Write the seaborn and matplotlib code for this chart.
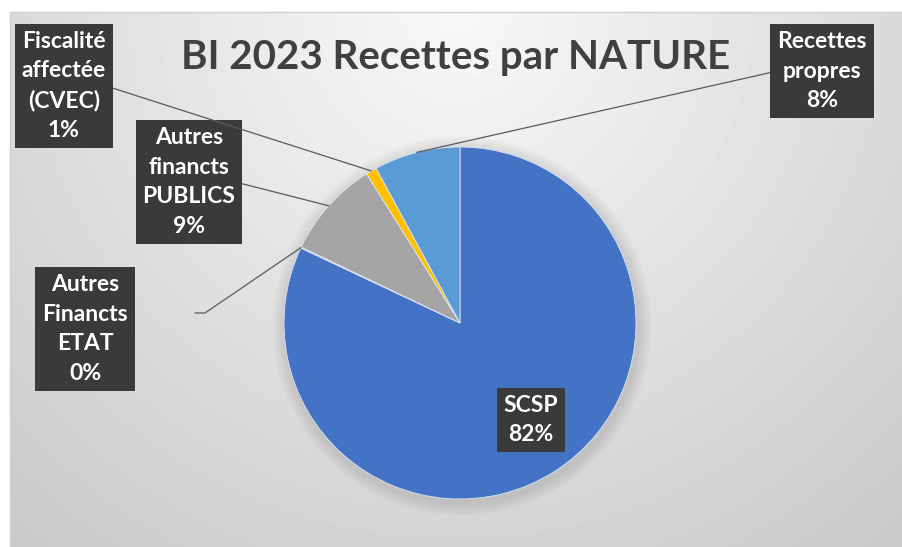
import numpy as np
import matplotlib.pyplot as plt
import seaborn as sns

# Pie data (clockwise from 12 o'clock, as in the Excel chart)
categories = ["SCSP", "Autres\nFinancts\nETAT", "Autres\nfinancts\nPUBLICS",
              "Fiscalité\naffectée\n(CVEC)", "Recettes\npropres"]
values = [82.0, 0.1, 9.0, 1.0, 7.9]
colors = ["#4472C4", "#ED7D31", "#A5A5A5", "#FFC000", "#5B9BD5"]
title = "BI 2023 Recettes par NATURE"

# label box centres (pixel coords, y up) and where the leader leaves the box
label_pos = [(531, 127), (85, 218), (189, 365), (64, 461), (822, 476)]
label_rel = [None, None, (1.0, 0.5), (1.0, 0.5), (0.0, 0.5)]

sns.set_theme(style="white")
plt.rcParams['font.family'] = ['Lato', 'DejaVu Sans']

W, H = 903, 547
fig = plt.figure(figsize=(W / 100, H / 100), dpi=100)
ax = fig.add_axes([0, 0, 1, 1])

# chart area background: soft radial gradient, white near the title
gx0, gx1, gy0, gy1 = 10, W, 0, 535
cols = np.arange(gx1 - gx0)
rows = np.arange(gy1 - gy0)
X, Y = np.meshgrid(cols, rows)
d = np.sqrt((X - 446) ** 2 + (Y * 1.0) ** 2)
bg = np.clip(0.975 - 0.19 * d / 700, 0, 1)
ax.imshow(bg, cmap="gray", vmin=0, vmax=1, extent=[gx0, gx1, gy0, gy1],
          origin="upper", aspect="auto", zorder=0)
ax.plot([gx0, gx1], [gy1, gy1], color="#d0d0d0", lw=1, zorder=1)
ax.plot([gx0, gx0], [gy0, gy1], color="#d0d0d0", lw=1, zorder=1)

center = (460, 224)
radius = 176

# soft shadow round the pie
for k in range(14, 0, -1):
    ax.add_patch(plt.Circle((center[0] + 2, center[1] - 3), radius + k,
                            color="#9a9a9a", alpha=0.025, lw=0, zorder=1))

wedges, _ = ax.pie(values, colors=colors, startangle=90, counterclock=False,
                   center=center, radius=radius,
                   wedgeprops=dict(edgecolor="#dbe6f5", linewidth=0.6, zorder=2))

total = sum(values)
fs = 16.5
box = dict(boxstyle="square,pad=0.3", fc="#3a3a3a", ec="none")
for i, w in enumerate(wedges):
    pct = f"{values[i] / total * 100:.0f}%"
    txt = f"{categories[i]}\n{pct}"
    mid = np.deg2rad((w.theta1 + w.theta2) / 2)
    edge = (center[0] + radius * np.cos(mid), center[1] + radius * np.sin(mid))
    lx, ly = label_pos[i]
    if i < 2:
        ax.text(lx, ly, txt, ha="center", va="center", color="white",
                fontsize=fs, fontweight="bold", linespacing=1.5,
                bbox=box, zorder=5)
        if i == 1:
            ax.plot([195, 205, edge[0]], [234, 234, edge[1]],
                    color="#595959", lw=0.9, zorder=4)
    else:
        ax.annotate(txt, xy=edge, xytext=(lx, ly), ha="center", va="center",
                    color="white", fontsize=fs, fontweight="bold",
                    linespacing=1.5, bbox=box, zorder=5,
                    arrowprops=dict(arrowstyle="-", color="#595959", lw=0.9,
                                    relpos=label_rel[i], shrinkA=0, shrinkB=0))

ax.text(456, 490, title, ha="center", va="center", fontsize=29,
        fontweight="bold", color="#404040", zorder=5)

ax.set_xlim(0, W)
ax.set_ylim(0, H)
ax.set_aspect("auto")
ax.axis("off")
fig.savefig("out.png", dpi=100, facecolor="white")
